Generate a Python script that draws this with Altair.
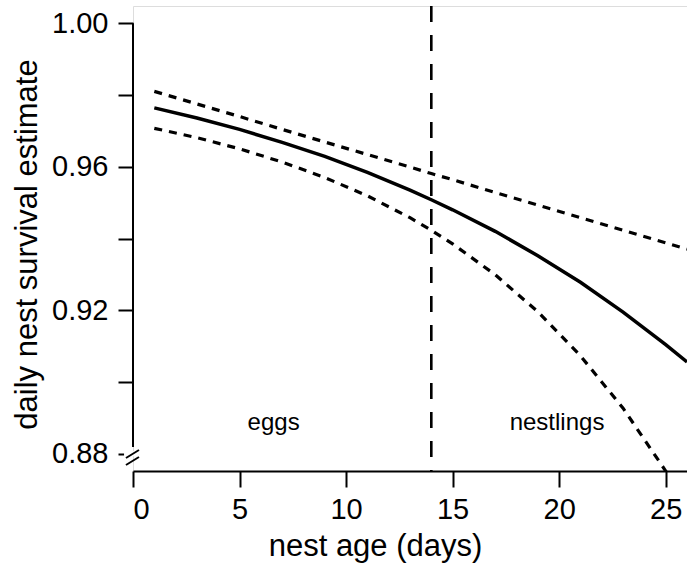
import altair as alt
import pandas as pd

# Nest age (days) at which the model curves are read
age = [1, 3, 5, 7, 9, 11, 13, 14, 15, 17, 19, 21, 23, 25, 26]
# Daily nest survival estimate and its confidence bounds
estimate = [0.9764, 0.9736, 0.9704, 0.9668, 0.9629, 0.9584, 0.9535, 0.9508,
            0.9480, 0.9420, 0.9352, 0.9278, 0.9195, 0.9104, 0.9056]
upper = [0.9810, 0.9775, 0.9740, 0.9704, 0.9669, 0.9634, 0.9599, 0.9581,
         0.9564, 0.9528, 0.9493, 0.9458, 0.9423, 0.9388, 0.9370]
lower = [0.9707, 0.9681, 0.9650, 0.9613, 0.9570, 0.9519, 0.9458, 0.9423,
         0.9385, 0.9299, 0.9196, 0.9073, 0.8927, 0.8752, 0.8653]

hatch_day = [14]
stage_names = ["eggs", "nestlings"]
stage_x = [6.6, 19.9]
stage_y = [0.8886, 0.8886]

y_ticks = [0.88, 0.90, 0.92, 0.94, 0.96, 0.98, 1.00]
x_ticks = [0, 5, 10, 15, 20, 25]

# axis-break glyph "//" on the y axis
break_x = [-0.33, -0.33]
break_x2 = [0.28, 0.28]
break_y = [0.87882, 0.87687]
break_y2 = [0.88105, 0.87910]

FONT = "Liberation Sans"

curve_df = pd.DataFrame({"age": age, "estimate": estimate})
bounds_df = pd.concat([
    pd.DataFrame({"age": age, "value": upper, "bound": "upper"}),
    pd.DataFrame({"age": age, "value": lower, "bound": "lower"}),
])
stage_df = pd.DataFrame({"name": stage_names, "x": stage_x, "y": stage_y})
break_df = pd.DataFrame({"x": break_x, "x2": break_x2, "y": break_y, "y2": break_y2})
hatch_df = pd.DataFrame({"day": hatch_day})
yline_df = pd.DataFrame({"x": [0], "y": [0.8819], "y2": [1.0]})
gap_df = pd.DataFrame({"x": [-0.42], "x2": [0.05], "y": [0.88]})

x_scale = alt.Scale(domain=[0, 26], nice=False, zero=False)
y_scale = alt.Scale(domain=[0.8752, 1.0048], nice=False, zero=False)

x_axis = alt.Axis(
    values=x_ticks, title="nest age (days)", grid=False,
    domain=True, domainColor="black", domainWidth=2,
    tickSize=16, tickWidth=2, tickColor="black",
    labelFontSize=29, labelColor="black", labelPadding=8, labelFont=FONT,
    titleFontSize=31, titleFont=FONT, titleColor="black", titleFontWeight="normal",
    titleX=242, titleY=75, titleBaseline="middle",
)
y_axis = alt.Axis(
    values=y_ticks, title="daily nest survival estimate", grid=False,
    domain=False, tickSize=15, tickWidth=2, tickColor="black",
    labelExpr="(round(datum.value*100) % 4 == 0) ? format(datum.value, '.2f') : ''",
    labelFontSize=29, labelColor="black", labelPadding=10, labelFont=FONT,
    titleFontSize=31, titleFont=FONT, titleColor="black", titleFontWeight="normal",
    titleAngle=-90, titleX=-106, titleY=238, titleAlign="center", titleBaseline="middle",
)

base_line = alt.Chart(curve_df).mark_line(
    color="black", strokeWidth=3.5, clip=True
).encode(
    x=alt.X("age:Q", scale=x_scale, axis=x_axis),
    y=alt.Y("estimate:Q", scale=y_scale, axis=y_axis),
)

bounds = alt.Chart(bounds_df).mark_line(
    color="black", strokeWidth=3.2, strokeDash=[8, 7], clip=True
).encode(
    x=alt.X("age:Q", scale=x_scale),
    y=alt.Y("value:Q", scale=y_scale),
    detail="bound:N",
)

hatch = alt.Chart(hatch_df).mark_rule(
    color="black", strokeWidth=2.6, strokeDash=[16, 13]
).encode(x=alt.X("day:Q", scale=x_scale))

y_line = alt.Chart(yline_df).mark_rule(color="black", strokeWidth=2).encode(
    x=alt.X("x:Q", scale=x_scale),
    y=alt.Y("y:Q", scale=y_scale),
    y2="y2:Q",
)

gap = alt.Chart(gap_df).mark_rule(color="white", strokeWidth=5).encode(
    x=alt.X("x:Q", scale=x_scale), x2="x2:Q",
    y=alt.Y("y:Q", scale=y_scale),
)

breaks = alt.Chart(break_df).mark_rule(color="black", strokeWidth=2).encode(
    x=alt.X("x:Q", scale=x_scale), x2="x2:Q",
    y=alt.Y("y:Q", scale=y_scale), y2="y2:Q",
)

stages = alt.Chart(stage_df).mark_text(
    font=FONT, fontSize=24, color="black", align="center", baseline="middle"
).encode(
    x=alt.X("x:Q", scale=x_scale),
    y=alt.Y("y:Q", scale=y_scale),
    text="name:N",
)

chart = alt.layer(
    base_line, bounds, hatch, y_line, gap, breaks, stages
).properties(
    width=554, height=465,
    autosize=alt.AutoSizeParams(type="none"),
    padding={"left": 133, "top": 6, "right": 0, "bottom": 100},
).configure_view(stroke=None).configure(background="white")

chart.save("out.html", embed_options={"renderer": "svg", "actions": False})
